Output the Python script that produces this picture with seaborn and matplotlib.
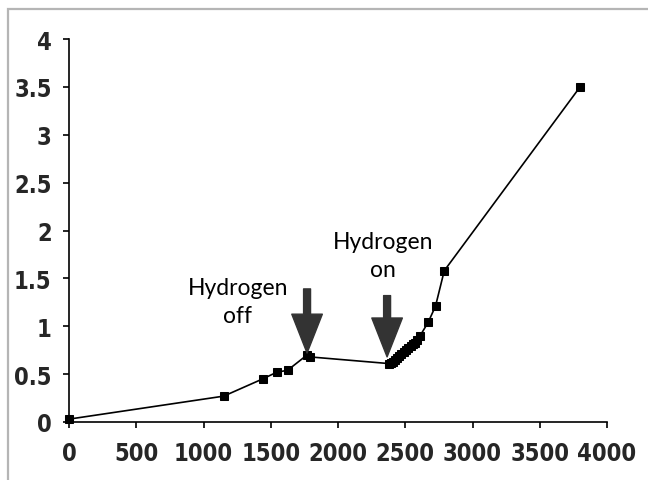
import matplotlib
matplotlib.use("Agg")
import matplotlib.pyplot as plt
from matplotlib.patches import Rectangle
import pandas as pd
import seaborn as sns

# Measured series: elapsed time vs. response
time = [0, 1150, 1440, 1545, 1625, 1770, 1790,
        2380, 2395, 2410, 2425, 2440, 2455, 2470, 2490, 2505, 2520,
        2540, 2555, 2570, 2590, 2610, 2670, 2725, 2790, 3800]
value = [0.03, 0.27, 0.45, 0.52, 0.54, 0.70, 0.68,
         0.61, 0.62, 0.63, 0.65, 0.67, 0.69, 0.71, 0.73, 0.75, 0.77,
         0.79, 0.81, 0.83, 0.86, 0.90, 1.04, 1.21, 1.58, 3.50]

x_ticks = [0, 500, 1000, 1500, 2000, 2500, 3000, 3500, 4000]
y_ticks = [0, 0.5, 1, 1.5, 2, 2.5, 3, 3.5, 4]
y_tick_labels = ["0", "0.5", "1", "1.5", "2", "2.5", "3", "3.5", "4"]

# Event annotations: (label, text x, text y, arrow x, arrow top, arrow tip)
events = [
    ("Hydrogen\noff", 1256, 1.26, 1770, 1.39, 0.72),
    ("Hydrogen\non", 2335, 1.74, 2365, 1.32, 0.68),
]

df = pd.DataFrame({"time": time, "value": value})

sns.set_style("ticks")
plt.rcParams["font.family"] = ["DejaVu Sans"]

fig = plt.figure(figsize=(6.48, 4.81), dpi=100)
ax = fig.add_axes([69 / 648, 1 - 423 / 481, 538 / 648, 383 / 481])

sns.lineplot(data=df, x="time", y="value", ax=ax, sort=False, color="black",
             linewidth=1.2, marker="s", markersize=5.5, markeredgecolor="black",
             markerfacecolor="black", clip_on=False)

ax.set_xlim(0, 4000)
ax.set_ylim(0, 4)
ax.set_xticks(x_ticks)
ax.set_xticklabels([str(t) for t in x_ticks])
ax.set_yticks(y_ticks)
ax.set_yticklabels(y_tick_labels)
ax.set_xlabel("")
ax.set_ylabel("")

for side in ("top", "right"):
    ax.spines[side].set_visible(False)
for side in ("left", "bottom"):
    ax.spines[side].set_color("black")
    ax.spines[side].set_linewidth(1.2)

ax.tick_params(axis="both", direction="out", length=4.5, width=1.2, color="black",
               labelsize=17, pad=8)
ax.tick_params(axis="x", pad=9)
for lab in ax.get_xticklabels() + ax.get_yticklabels():
    lab.set_fontweight("bold")
    lab.set_fontstretch("condensed")

for text, tx, ty, ax_x, top, tip in events:
    ax.text(tx, ty, text, ha="center", va="center", fontsize=16.5,
            family=["Lato", "DejaVu Sans"], linespacing=1.4, color="black")
    ax.annotate("", xy=(ax_x, tip), xytext=(ax_x, top),
                arrowprops=dict(facecolor="#333333", edgecolor="#333333",
                                width=5, headwidth=22, headlength=28, shrink=0))

# Light grey frame around the figure
fig.patches.append(Rectangle((8 / 648, -0.2), 1.2, 1 - 10 / 481 + 0.2,
                             transform=fig.transFigure, fill=False,
                             edgecolor="#b5b5b5", linewidth=1.6))

fig.savefig("out.png", dpi=100)
